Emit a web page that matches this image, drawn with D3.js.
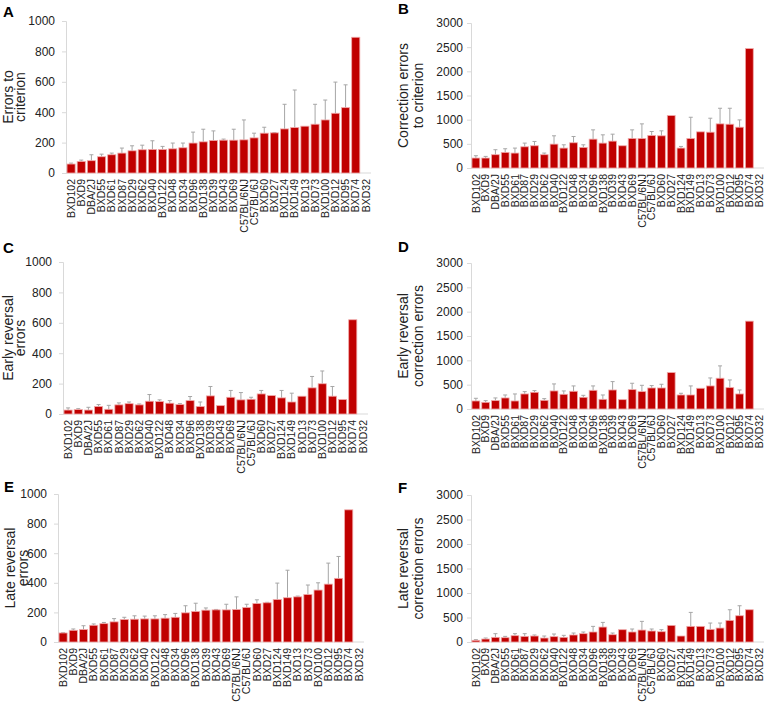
<!DOCTYPE html>
<html><head><meta charset="utf-8">
<script src="https://cdn.jsdelivr.net/npm/d3@7"></script>
<style>
body{margin:0;background:#fff}
svg{display:block}
text{font-family:"Liberation Sans",Arial,sans-serif}
</style>
</head><body>
<svg id="chart" width="769" height="711"></svg>
<script>
const categories = ["BXD102","BXD9","DBA/2J","BXD55","BXD61","BXD87","BXD29","BXD62","BXD40","BXD122","BXD48","BXD34","BXD96","BXD138","BXD39","BXD43","BXD69","C57BL/6NJ","C57BL/6J","BXD60","BXD27","BXD124","BXD149","BXD13","BXD73","BXD100","BXD12","BXD95","BXD74","BXD32"];

const errorsToCriterion   = [59,76,81,107,120,131,146,153,155,155,159,166,197,205,214,216,216,218,231,262,264,290,299,308,321,349,393,430,893,null];
const errorsToCriterionSE = [6,9,39,17,11,33,33,30,57,20,38,31,72,83,63,7,72,131,31,39,2,162,247,0,131,131,205,150,0,null];

const correctionErrors   = [206,206,275,323,309,439,460,275,494,412,522,426,597,515,556,460,611,611,673,666,1085,412,611,748,741,913,906,844,2471,null];
const correctionErrorsSE = [48,34,103,75,103,76,89,34,172,68,130,54,192,171,144,0,178,302,82,103,0,34,439,0,289,323,330,151,0,null];

const earlyErrors   = [26,29,26,49,31,60,68,60,84,82,71,62,88,49,119,55,110,93,97,132,121,106,79,117,172,199,117,95,620,null];
const earlyErrorsSE = [14,6,18,13,26,13,11,6,44,11,17,6,27,30,62,0,45,48,13,23,0,49,58,0,75,84,64,0,0,null];

const earlyCorrection   = [165,137,172,227,165,309,343,178,371,302,364,240,384,199,391,192,398,357,432,432,748,288,288,426,474,632,439,309,1805,null];
const earlyCorrectionSE = [55,35,55,61,144,48,35,35,144,69,110,41,90,89,172,0,131,130,49,76,0,35,186,0,164,254,158,82,0,null];

const lateErrors   = [61,79,84,113,124,136,152,154,156,156,161,167,197,206,215,217,217,219,233,260,265,287,299,305,321,351,391,430,893,null];
const lateErrorsSE = [2,9,26,9,8,22,15,23,19,21,24,26,48,56,15,3,38,86,22,25,3,111,186,5,64,49,142,148,0,null];

const lateCorrection   = [34,61,95,88,129,115,122,81,109,95,143,170,204,305,149,251,204,244,224,210,339,122,319,319,258,285,441,536,658,null];
const lateCorrectionSE = [14,20,75,27,41,55,21,41,54,41,40,34,115,95,34,0,61,177,41,41,0,0,285,0,129,102,217,204,0,null];

const panelLetters = ["A","B","C","D","E","F"];
const panelTitles = [["Errors to","criterion"],["Correction errors","to criterion"],["Early reversal","errors"],["Early reversal","correction errors"],["Late reversal","errors"],["Late reversal","correction errors"]];
const yMaxes = [1000,3000,1000,3000,1000,3000];
const ySteps = [200,500,200,500,200,500];
const seriesValues = [errorsToCriterion,correctionErrors,earlyErrors,earlyCorrection,lateErrors,lateCorrection];
const seriesSE = [errorsToCriterionSE,correctionErrorsSE,earlyErrorsSE,earlyCorrectionSE,lateErrorsSE,lateCorrectionSE];

// layout (positions only)
const layout = [
  {x0:66, x1:371, y0:21,  y1:173, lx:3,   ly:17,  t1:13,  t2:25,  pad:7},
  {x0:471,x1:764, y0:23,  y1:168, lx:398, ly:14,  t1:408, t2:423, pad:4},
  {x0:63, x1:368, y0:262, y1:414, lx:3,   ly:253, t1:13,  t2:25,  pad:7},
  {x0:471,x1:764, y0:263, y1:409, lx:398, ly:252, t1:408, t2:423, pad:4},
  {x0:58, x1:364, y0:494, y1:642, lx:4,   ly:492, t1:15,  t2:28,  pad:7},
  {x0:471,x1:764, y0:495, y1:642, lx:398, ly:493, t1:408, t2:423, pad:4}
];

const svg = d3.select("#chart");

panelLetters.forEach((letter,i)=>{
  const L = layout[i];
  const vals = seriesValues[i], se = seriesSE[i];
  const data = categories.map((c,k)=>({cat:c, v:vals[k], e:se[k]}));
  const x = d3.scaleBand().domain(categories).range([L.x0,L.x1]).paddingInner(0.2).paddingOuter(0.1);
  const y = d3.scaleLinear().domain([0,yMaxes[i]]).range([L.y1,L.y0]);
  const g = svg.append("g");

  const ax = g.append("g").attr("transform",`translate(${L.x0},0)`)
    .call(d3.axisLeft(y).tickValues(d3.range(0,yMaxes[i]+1,ySteps[i])).tickSize(4).tickPadding(L.pad).tickFormat(d3.format("d")));
  ax.select(".domain").attr("stroke","#d9d9d9");
  ax.selectAll(".tick line").attr("stroke","#d9d9d9");
  ax.selectAll(".tick text").attr("fill","#222").style("font-size","12px").style("font-family","Liberation Sans, Arial, sans-serif");

  g.append("line").attr("x1",L.x0).attr("x2",L.x1).attr("y1",L.y1).attr("y2",L.y1).attr("stroke","#d9d9d9");

  const valid = data.filter(d=>d.v!=null);
  const eb = valid.filter(d=>d.e>0);
  g.selectAll(".eb").data(eb).enter().append("line")
    .attr("x1",d=>x(d.cat)+x.bandwidth()/2).attr("x2",d=>x(d.cat)+x.bandwidth()/2)
    .attr("y1",d=>y(d.v)).attr("y2",d=>y(d.v+d.e)).attr("stroke","#a6a6a6").attr("stroke-width",1);
  g.selectAll(".cap").data(eb).enter().append("line")
    .attr("x1",d=>x(d.cat)+x.bandwidth()/2-2).attr("x2",d=>x(d.cat)+x.bandwidth()/2+2)
    .attr("y1",d=>y(d.v+d.e)).attr("y2",d=>y(d.v+d.e)).attr("stroke","#a6a6a6").attr("stroke-width",1);

  g.selectAll(".bar").data(valid).enter().append("rect")
    .attr("x",d=>x(d.cat)).attr("width",x.bandwidth())
    .attr("y",d=>y(d.v)).attr("height",d=>L.y1-y(d.v))
    .attr("fill","#c00000").attr("stroke","#f0a8a8").attr("stroke-width",0.8);

  g.selectAll(".cl").data(categories).enter().append("text")
    .attr("transform",d=>`translate(${x(d)+x.bandwidth()/2},${L.y1+6}) rotate(-90)`)
    .attr("text-anchor","end").attr("dy","0.35em")
    .style("font-size","10.5px").attr("fill","#222").text(d=>d);

  const cy = (L.y0+L.y1)/2;
  panelTitles[i].forEach((t,k)=>{
    g.append("text").attr("transform",`translate(${k===0?L.t1:L.t2},${cy}) rotate(-90)`)
      .attr("text-anchor","middle").style("font-size","14px").attr("fill","#222").text(t);
  });

  g.append("text").attr("x",L.lx).attr("y",L.ly).style("font-size","15px").style("font-weight","bold").attr("fill","#000").text(letter);
});
</script>
</body></html>
